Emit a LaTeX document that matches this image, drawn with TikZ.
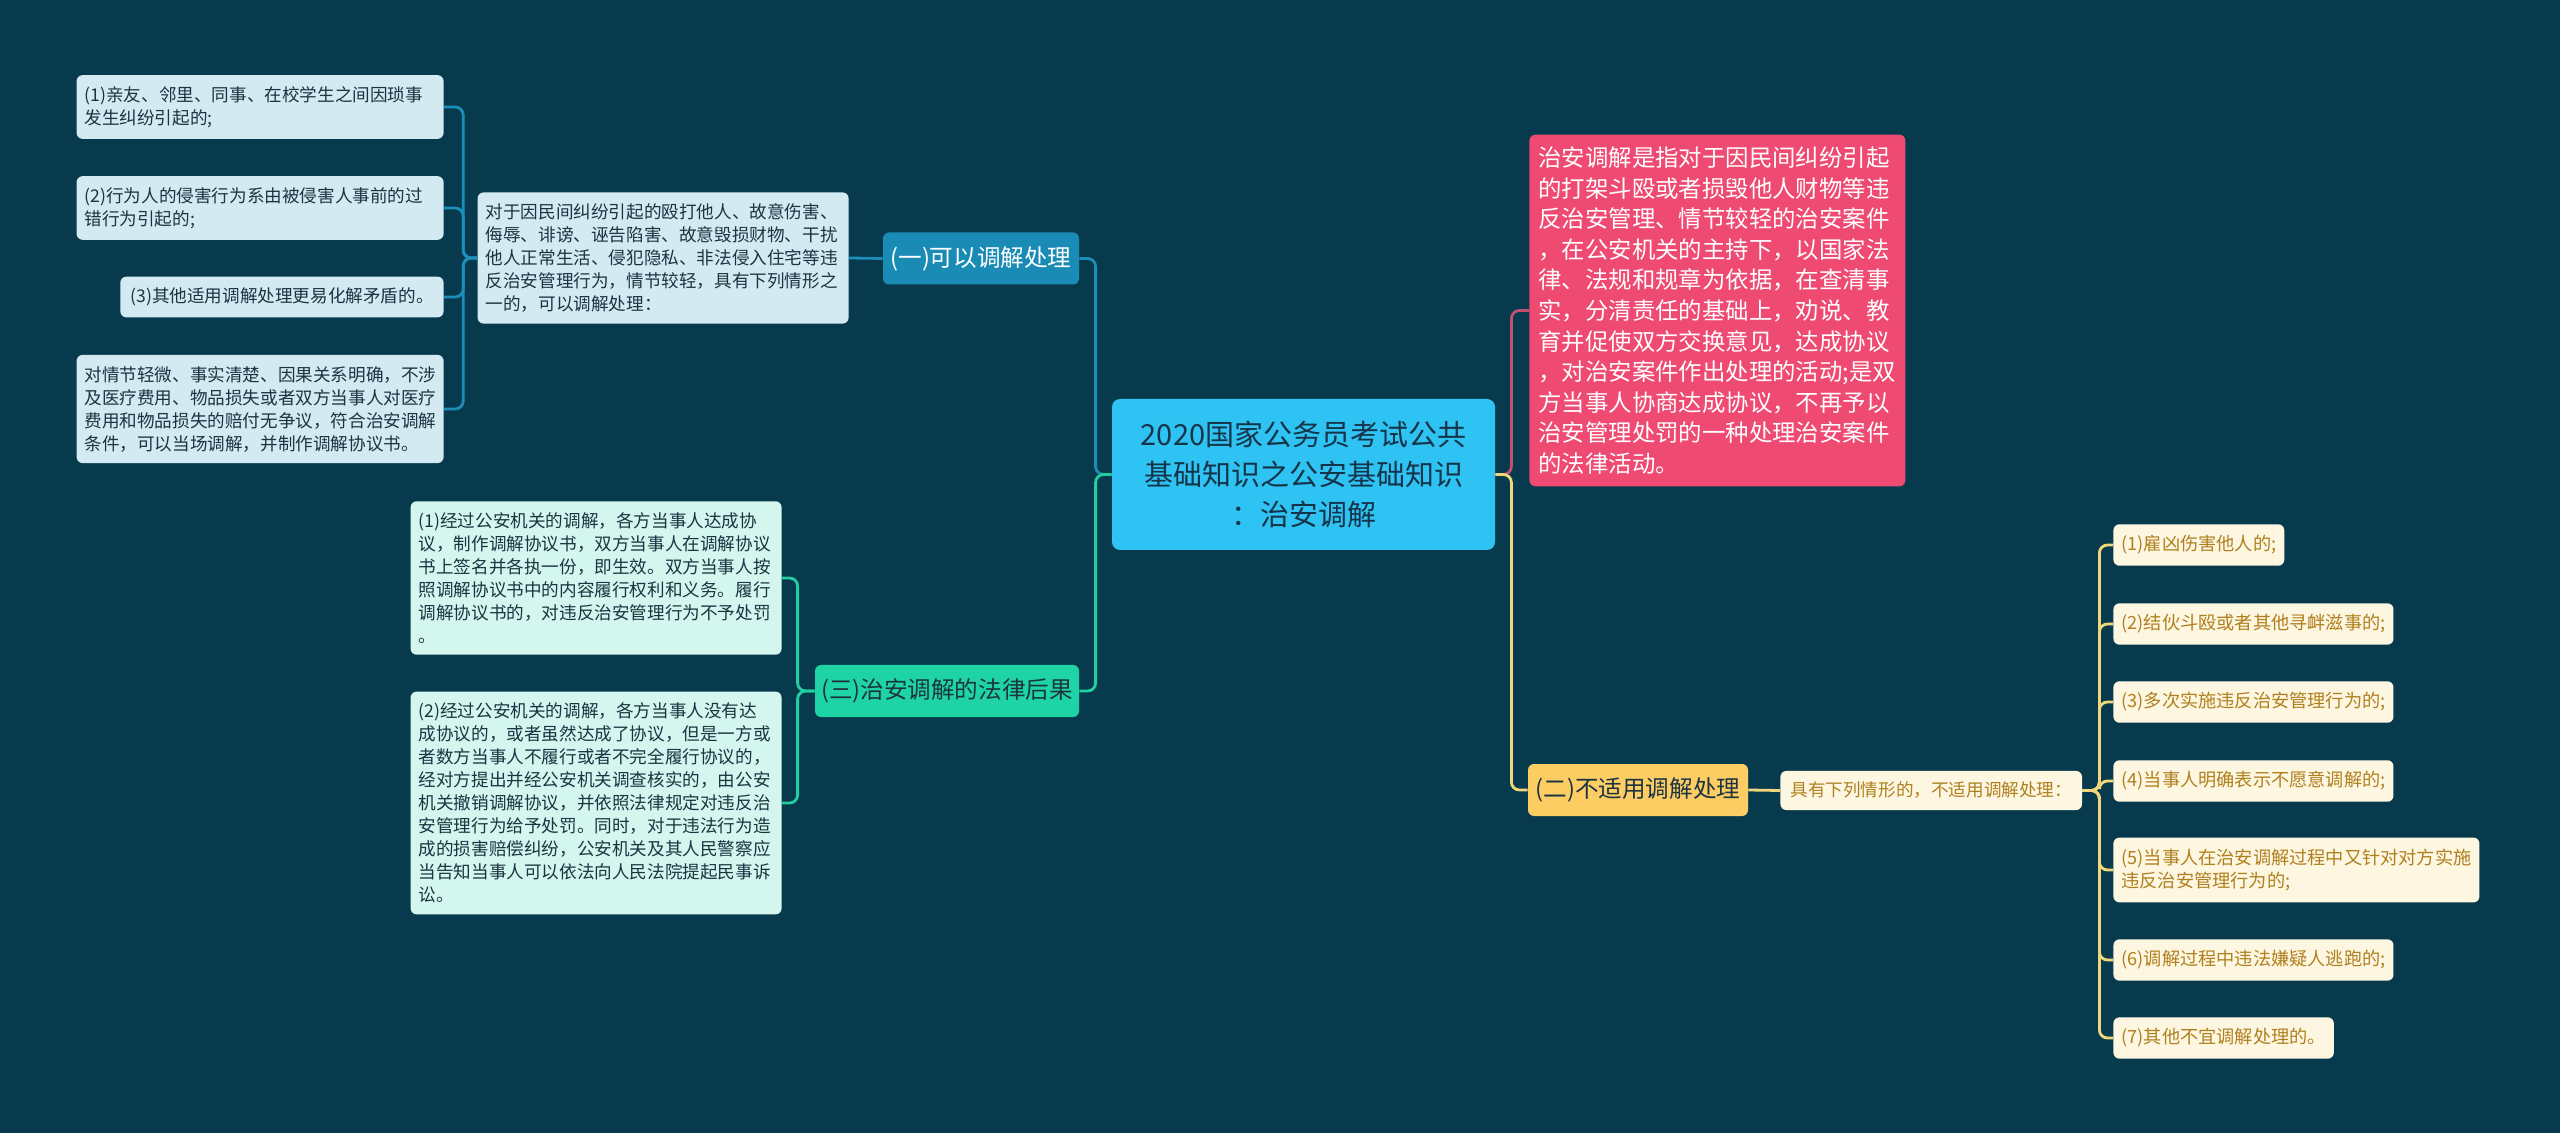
\documentclass[tikz,border=0pt]{standalone}
\usepackage{fontspec}
\setmainfont{Noto Sans CJK SC}
\definecolor{bgnavy}{HTML}{083A4D}
\definecolor{rootblue}{HTML}{2EC3F2}
\definecolor{roottext}{HTML}{15344A}
\definecolor{defpink}{HTML}{EE4A72}
\definecolor{pinkline}{HTML}{C2506F}
\definecolor{catblue}{HTML}{1A8BB5}
\definecolor{blueline}{HTML}{1D8DB9}
\definecolor{leafblue}{HTML}{D3EAF2}
\definecolor{catgreen}{HTML}{1ED4A4}
\definecolor{greenline}{HTML}{21CFA0}
\definecolor{leafmint}{HTML}{D3F6EE}
\definecolor{catyellow}{HTML}{FCCD62}
\definecolor{yellowline}{HTML}{F0D77B}
\definecolor{leafcream}{HTML}{FDF6E1}
\definecolor{goldtext}{HTML}{B0801E}
\definecolor{darktext}{HTML}{1C3442}
\begin{document}
\begin{tikzpicture}[x=0.5pt, y=-0.5pt,
    box/.style={rounded corners=3pt, inner xsep=4pt, inner ysep=5.6pt, align=left,
      font=\fontsize{8.8pt}{11.5pt}\selectfont},
    bluebox/.style={box, fill=leafblue, text=darktext},
    mintbox/.style={box, fill=leafmint, text=darktext},
    creambox/.style={box, fill=leafcream, text=goldtext, font=\fontsize{9.1pt}{11.8pt}\selectfont},
    branch/.style={rounded corners=3pt, minimum height=26pt, inner sep=0pt,
      font=\fontsize{11.8pt}{14pt}\selectfont},
    link/.style={line width=1.4pt, rounded corners=4pt}]
  % 背景
  \fill[bgnavy] (0,0) rectangle (2560,1133);
  \useasboundingbox (0,0) rectangle (2560,1133);

  % 中心主题
  \node[fill=rootblue, text=roottext, rounded corners=4pt, minimum width=191.5pt,
    minimum height=75.5pt, align=center, font=\fontsize{14.5pt}{20pt}\selectfont]
    (root) at (1303.5,474.5) {2020国家公务员考试公共\\基础知识之公安基础知识\\：治安调解};

  % 定义
  \node[fill=defpink, text=white, rounded corners=3pt, anchor=west, text width=179pt,
    inner xsep=4.5pt, inner ysep=6pt, align=left, font=\fontsize{11.7pt}{15.3pt}\selectfont]
    (define) at (1529,310.5) {治安调解是指对于因民间纠纷引起\\的打架斗殴或者损毁他人财物等违\\反治安管理、情节较轻的治安案件\\，在公安机关的主持下，以国家法\\律、法规和规章为依据，在查清事\\实，分清责任的基础上，劝说、教\\育并促使双方交换意见，达成协议\\，对治安案件作出处理的活动;是双\\方当事人协商达成协议，不再予以\\治安管理处罚的一种处理治安案件\\的法律活动。};

  % 三个分支
  \node[branch, fill=catblue, text=white, minimum width=98pt] (cat1) at (981,258.5) {(一)可以调解处理};
  \node[branch, fill=catgreen, text=darktext, minimum width=132pt] (cat3) at (947,691) {(三)治安调解的法律后果};
  \node[branch, fill=catyellow, text=darktext, minimum width=110pt] (cat2) at (1638,790) {(二)不适用调解处理};

  % (一)
  \node[bluebox, anchor=east, text width=177.5pt] (desc1) at (849,258)
    {对于因民间纠纷引起的殴打他人、故意伤害、\\侮辱、诽谤、诬告陷害、故意毁损财物、干扰\\他人正常生活、侵犯隐私、非法侵入住宅等违\\反治安管理行为，情节较轻，具有下列情形之\\一的，可以调解处理：};
  \node[bluebox, anchor=east, text width=175.5pt] (l1) at (444,107)
    {(1)亲友、邻里、同事、在校学生之间因琐事\\发生纠纷引起的;};
  \node[bluebox, anchor=east, text width=175.5pt] (l2) at (444,208)
    {(2)行为人的侵害行为系由被侵害人事前的过\\错行为引起的;};
  \node[bluebox, anchor=east, inner xsep=5pt] (l3) at (444,297)
    {(3)其他适用调解处理更易化解矛盾的。};
  \node[bluebox, anchor=east, text width=175.5pt] (l4) at (444,409)
    {对情节轻微、事实清楚、因果关系明确，不涉\\及医疗费用、物品损失或者双方当事人对医疗\\费用和物品损失的赔付无争议，符合治安调解\\条件，可以当场调解，并制作调解协议书。};

  % (三)
  \node[mintbox, anchor=east, text width=177.5pt] (m1) at (782,578)
    {(1)经过公安机关的调解，各方当事人达成协\\议，制作调解协议书，双方当事人在调解协议\\书上签名并各执一份，即生效。双方当事人按\\照调解协议书中的内容履行权利和义务。履行\\调解协议书的，对违反治安管理行为不予处罚\\。};
  \node[mintbox, anchor=east, text width=177.5pt] (m2) at (782,803)
    {(2)经过公安机关的调解，各方当事人没有达\\成协议的，或者虽然达成了协议，但是一方或\\者数方当事人不履行或者不完全履行协议的，\\经对方提出并经公安机关调查核实的，由公安\\机关撤销调解协议，并依照法律规定对违反治\\安管理行为给予处罚。同时，对于违法行为造\\成的损害赔偿纠纷，公安机关及其人民警察应\\当告知当事人可以依法向人民法院提起民事诉\\讼。};

  % (二)
  \node[creambox, anchor=west, inner xsep=5pt, font=\fontsize{8.8pt}{11.5pt}\selectfont]
    (desc2) at (1780,790.5) {具有下列情形的，不适用调解处理：};
  \node[creambox, anchor=west] (r1) at (2113,545) {(1)雇凶伤害他人的;};
  \node[creambox, anchor=west] (r2) at (2113,624) {(2)结伙斗殴或者其他寻衅滋事的;};
  \node[creambox, anchor=west] (r3) at (2113,702) {(3)多次实施违反治安管理行为的;};
  \node[creambox, anchor=west] (r4) at (2113,781) {(4)当事人明确表示不愿意调解的;};
  \node[creambox, anchor=west] (r5) at (2113,870) {(5)当事人在治安调解过程中又针对对方实施\\违反治安管理行为的;};
  \node[creambox, anchor=west] (r6) at (2113,960) {(6)调解过程中违法嫌疑人逃跑的;};
  \node[creambox, anchor=west] (r7) at (2113,1038) {(7)其他不宜调解处理的。};

  % 连线
  \draw[link, blueline] (root.west) -- ++(-16,0) |- (cat1.east);
  \draw[link, greenline] (root.west) -- ++(-16,0) |- (cat3.east);
  \draw[link, pinkline] (root.east) -- ++(16,0) |- (define.west);
  \draw[link, yellowline] (root.east) -- ++(16,0) |- (cat2.west);

  \draw[link, blueline] (cat1.west) -- (desc1.east);
  \draw[link, blueline] (desc1.west) -- ++(-14,0) |- (l1.east);
  \draw[link, blueline] (desc1.west) -- ++(-14,0) |- (l2.east);
  \draw[link, blueline] (desc1.west) -- ++(-14,0) |- (l3.east);
  \draw[link, blueline] (desc1.west) -- ++(-14,0) |- (l4.east);

  \draw[link, greenline] (cat3.west) -- ++(-17,0) |- (m1.east);
  \draw[link, greenline] (cat3.west) -- ++(-17,0) |- (m2.east);

  \draw[link, yellowline] (cat2.east) -- (desc2.west);
  \draw[link, yellowline] (desc2.east) -- ++(17,0) |- (r1.west);
  \draw[link, yellowline] (desc2.east) -- ++(17,0) |- (r2.west);
  \draw[link, yellowline] (desc2.east) -- ++(17,0) |- (r3.west);
  \draw[link, yellowline] (desc2.east) -- ++(17,0) |- (r4.west);
  \draw[link, yellowline] (desc2.east) -- ++(17,0) |- (r5.west);
  \draw[link, yellowline] (desc2.east) -- ++(17,0) |- (r6.west);
  \draw[link, yellowline] (desc2.east) -- ++(17,0) |- (r7.west);
\end{tikzpicture}
\end{document}
